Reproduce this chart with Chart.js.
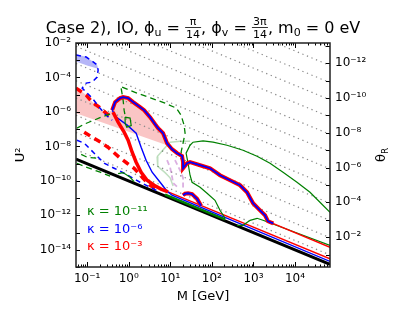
<!DOCTYPE html>
<html>
<head>
<meta charset="utf-8">
<script src="https://cdn.jsdelivr.net/npm/chart.js@4"></script>
<style>
  html, body { margin: 0; padding: 0; background: #fff; }
</style>
</head>
<body>
<canvas id="c" width="407" height="326"></canvas>
<script>
/* ========= DATA ========= */
// axis ranges and ticks
const xMin = 0.054, xMax = 69500;
const yMin = 1e-15, yMax = 1e-2;
const thetaMin = 7e-14, thetaMax = 0.52;

const xTicks = [0.1, 1, 10, 100, 1000, 10000];
const xTickLabels = ["10⁻¹", "10⁰", "10¹", "10²", "10³", "10⁴"];
const yTicks = [1e-14, 1e-12, 1e-10, 1e-8, 1e-6, 1e-4, 1e-2];
const yTickLabels = ["10⁻¹⁴", "10⁻¹²", "10⁻¹⁰", "10⁻⁸", "10⁻⁶", "10⁻⁴", "10⁻²"];
const thetaTicks = [1e-12, 1e-10, 1e-8, 1e-6, 1e-4, 1e-2];
const thetaTickLabels = ["10⁻¹²", "10⁻¹⁰", "10⁻⁸", "10⁻⁶", "10⁻⁴", "10⁻²"];

// dotted constant-theta guides: U2 at left edge and at right edge
const guideLeft = [6.4e-9, 6.4e-8, 6.4e-7, 6.4e-6, 6.4e-5, 6.4e-4, 6.4e-3, 6.4e-2, 0.64, 6.4, 64, 640, 6400];
const guideRight = [5e-15, 5e-14, 5e-13, 5e-12, 5e-11, 5e-10, 5e-9, 5e-8, 5e-7, 5e-6, 5e-5, 5e-4, 5e-3];

// seesaw line
const seesaw = [[0.054, 1.85e-9], [69500, 1.43e-15]];

// kappa = 1e-3 (red)
const redDashedUpper = [[0.054, 2.42e-5], [0.095, 9.5e-6], [0.132, 3.72e-6], [0.195, 1.9e-6], [0.286, 8.5e-7], [0.378, 4.99e-7]];
const redDashedLower = [[0.085, 6.7e-8], [0.132, 3.43e-8], [0.23, 1.53e-8], [0.338, 7.86e-9], [0.587, 2.36e-9],
  [0.916, 1.05e-9], [1.35, 5.4e-10], [2.22, 1.42e-10], [3.27, 5.55e-11], [4.82, 2.84e-11]];
const redSolidLeft = [[0.42, 9.7e-7], [0.556, 2.55e-7], [0.776, 6.7e-8], [0.968, 2.29e-8], [1.21, 4.6e-9], [1.51, 1.21e-9],
  [1.99, 3.16e-10], [2.77, 1.08e-10], [4.08, 5.55e-11], [6.01, 3.3e-11], [8.85, 2.3e-11]];
const redBundle = [[8.85, 2.3e-11], [69500, 3.0e-15]];
const redUpper = [[2244, 4.5e-13], [69500, 1.38e-14]];

// outer boundary shared by kappa = 1e-6 and 1e-3
const boundary = [[0.40, 1.27e-6], [0.471, 3.72e-6], [0.622, 6.34e-6], [0.734, 7.25e-6], [0.97, 6.34e-6], [1.28, 3.72e-6],
  [1.88, 1.9e-6], [2.35, 1.27e-6], [3.27, 4.99e-7], [4.31, 1.95e-7], [5.09, 1.14e-7], [6.71, 5.85e-8], [8.37, 1.53e-8],
  [11.0, 6.9e-9], [14.6, 4.03e-9], [19.2, 2.8e-9], [20.3, 1.21e-9], [20.3, 5.4e-10], [25.3, 1.05e-9], [29.9, 1.21e-9],
  [52.1, 8.07e-10], [90.6, 5.4e-10], [157, 2.12e-10], [274, 1.08e-10], [476, 5.55e-11], [702, 2.17e-11], [980, 4.99e-12],
  [1442, 1.95e-12], [1901, 1.0e-12], [2244, 4.5e-13], [3000, 3.4e-13]];
const smallBump = [[20.3, 1.46e-11], [22.7, 1.8e-11], [26.8, 1.9e-11], [33.4, 1.7e-11], [44.1, 9e-12], [55.1, 3.6e-12]];

// kappa = 1e-6 (blue)
const blueSolidLeft = [[0.40, 1.27e-6], [0.50, 4.99e-7], [0.92, 1.71e-7], [1.51, 5.85e-8], [1.99, 8.98e-9], [2.62, 1.58e-9],
  [3.66, 3.16e-10], [5.69, 8.3e-11], [8.37, 2.5e-11], [11.0, 1.46e-11], [69500, 2.1e-15]];
const blueDashedUpper = [[0.054, 2.0e-3], [0.095, 1.53e-3], [0.132, 8.98e-4], [0.174, 5.26e-4], [0.184, 2.69e-4],
  [0.174, 1.05e-4], [0.132, 5.4e-5], [0.095, 4.72e-5], [0.076, 2.42e-5], [0.10, 1.24e-5], [0.132, 6.34e-6],
  [0.195, 1.9e-6], [0.286, 6.5e-7], [0.40, 3.3e-7]];
const blueDashedLower = [[0.057, 2.29e-8], [0.085, 1.53e-8], [0.148, 4.03e-9], [0.256, 1.05e-9], [0.446, 5.4e-10],
  [0.776, 2.77e-10], [1.88, 8.3e-11], [3.27, 4.25e-11], [5.09, 2.5e-11]];

// kappa = 1e-11 (green)
const greenOuter = [[208, 6.7e-13], [157, 1.95e-12], [119, 7.45e-12], [76.7, 1.9e-11], [52.1, 4.25e-11], [33.4, 8.3e-11],
  [29.9, 2.12e-10], [26.8, 1.05e-9], [24.0, 4.03e-9], [29.9, 1.17e-8], [35.3, 1.75e-8], [61.5, 2.1e-8], [107, 1.75e-8],
  [232, 1.17e-8], [562, 6.0e-9], [1222, 2.69e-9], [2506, 1.05e-9], [5152, 3.16e-10], [11170, 8.3e-11],
  [22960, 2.17e-11], [39900, 5.7e-12], [69500, 1.49e-12]];
const greenUpper = [[400, 2.6e-13], [562, 2.62e-13], [832, 5.13e-13], [1222, 6.7e-13], [1700, 5.13e-13], [69500, 1.8e-14]];
const greenBundle = [[7.5, 1.6e-11], [208, 5.8e-13]];
const greenDashedUpper = [[0.695, 2.77e-5], [1.02, 1.85e-5], [1.59, 1.24e-5], [3.46, 6.34e-6], [7.5, 3.25e-6], [14.0, 1.66e-6],
  [18.2, 6.5e-7], [21.5, 1.71e-7], [22.7, 5.85e-8], [20.3, 1.53e-8], [18.2, 4.6e-9], [20.3, 2.06e-9]];
const greenDashedVert = [[0.66, 2.3e-5], [0.734, 4.85e-6], [0.776, 1.27e-6], [0.82, 6e-7]];
const greenLoop = [[0.82, 5e-7], [1.08, 4.4e-7], [1.15, 1.6e-7], [0.9, 1.3e-7], [0.82, 2.2e-7], [0.82, 5e-7]];
const greenDashedMid = [[0.057, 1.14e-7], [0.085, 1.95e-7], [0.148, 3.34e-7], [0.217, 5e-7], [0.30, 6.5e-7], [0.40, 8e-7]];
const greenDashedLow1 = [[0.072, 3.4e-9], [0.10, 2.36e-9], [0.165, 2.06e-9]];
const greenDashedLow2 = [[0.057, 1.05e-9], [0.09, 6.5e-10], [0.206, 3.2e-10], [0.357, 1.9e-10]];
const greenSmall = [[0.556, 2.6e-10], [0.734, 3.0e-10], [1.08, 1.6e-10], [1.35, 9e-11]];
const faintGreen1 = [[4.82, 2.5e-9], [7.0, 7e-9], [9.9, 1.75e-8], [17.2, 2.0e-8], [29.9, 2.0e-8]];
const faintGreen2 = [[4.82, 2.5e-9], [5.0, 7e-10], [7.5, 3e-10], [9.9, 1.5e-10], [11.7, 5e-11]];

// light purple dashed
const purple1 = [[8.37, 1.58e-9], [9.9, 6.18e-10], [11.0, 1.8e-10], [11.7, 7.5e-11], [15.4, 4.0e-11]];
const purple2 = [[13.0, 1.58e-9], [17.2, 4.13e-10], [20.3, 1.5e-10], [20.3, 3e-11]];

// filled regions
const pinkRegion = [[0.054, 2.77e-5], [0.095, 9.5e-6], [0.132, 3.72e-6], [0.195, 1.9e-6], [0.286, 8.5e-7], [0.40, 1.27e-6],
  [0.471, 3.72e-6], [0.622, 6.34e-6], [0.734, 7.25e-6], [0.97, 6.34e-6], [1.28, 3.72e-6], [1.88, 1.9e-6], [2.35, 1.27e-6],
  [3.27, 4.99e-7], [4.31, 1.95e-7], [5.09, 1.14e-7], [6.71, 5.85e-8], [8.37, 1.17e-8], [0.054, 8.5e-7]];
const blueRegion = [[0.054, 2.3e-3], [0.095, 1.53e-3], [0.132, 8.98e-4], [0.174, 5.26e-4], [0.184, 3.2e-4],
  [0.10, 5.0e-4], [0.054, 8.5e-4]];

const kappaLabels = ["κ = 10⁻¹¹", "κ = 10⁻⁶", "κ = 10⁻³"];
const kappaColors = ["#008000", "#0000ff", "#ff0000"];

/* ========= HELPERS ========= */
const FAM = '"DejaVu Sans", sans-serif';
const GREEN = "#008000", BLUE = "#0000ff", RED = "#ff0000";

function line(data, color, width, dash) {
  return { data: data.map(p => p.slice()), borderColor: color, borderWidth: width, borderDash: dash || [],
    showLine: true, pointRadius: 0, fill: false, tension: 0 };
}
function area(data, color) {
  return { data: data.map(p => p.slice()), backgroundColor: color, borderColor: "rgba(0,0,0,0)", borderWidth: 0,
    showLine: true, pointRadius: 0, fill: "shape", tension: 0 };
}

// listed bottom layer first
const layers = [
  area(pinkRegion, "rgba(245,150,150,0.55)"),
  area(blueRegion, "rgba(110,110,240,0.5)")
];
guideLeft.forEach((v, i) => {
  layers.push(line([[xMin, v], [xMax, guideRight[i]]], "#8a8a8a", 1.2, [1.3, 3.6]));
});
layers.push(
  line(faintGreen1, "rgba(0,128,0,0.25)", 1.5),
  line(faintGreen2, "rgba(0,128,0,0.25)", 1.5),
  line(purple1, "rgba(190,110,200,0.55)", 1.8, [5, 3]),
  line(purple2, "rgba(190,110,200,0.55)", 1.8, [5, 3]),
  line(seesaw, "#000", 3),
  line(greenBundle, GREEN, 2.5),
  line(redBundle, RED, 1.4),
  line(blueSolidLeft, BLUE, 1.4),
  line(redSolidLeft, RED, 3.5),
  line(redDashedUpper, RED, 3.5, [7, 5]),
  line(redDashedLower, RED, 3.5, [7, 5]),
  line(blueDashedUpper, BLUE, 1.5, [5, 4]),
  line(blueDashedLower, BLUE, 1.5, [5, 4]),
  line(greenDashedUpper, GREEN, 1.3, [6, 4]),
  line(greenDashedVert, GREEN, 1.3, [6, 4]),
  line(greenDashedMid, GREEN, 1.3, [6, 4]),
  line(greenDashedLow1, GREEN, 1.3, [6, 4]),
  line(greenDashedLow2, GREEN, 1.3, [6, 4]),
  line(greenLoop, GREEN, 1.2),
  line(greenSmall, GREEN, 1.2),
  line(greenOuter, GREEN, 1.2),
  line(greenUpper, GREEN, 1.2),
  line(redUpper, RED, 1.4),
  line(boundary, RED, 4),
  line(smallBump, RED, 4),
  line(boundary, BLUE, 1.8),
  line(smallBump, BLUE, 1.8)
);
// Chart.js paints dataset 0 last (on top), so flip the stack
const datasets = layers.reverse();

/* ========= TEXT ========= */
function drawTitle(ctx, cx, y) {
  const big = "16px " + FAM, small = "11px " + FAM;
  const parts = [
    { t: "Case 2), IO, ϕ" }, { s: "u" }, { t: " = " }, { f: ["π", "14"] }, { t: ", ϕ" }, { s: "v" }, { t: " = " },
    { f: ["3π", "14"] }, { t: ", m" }, { s: "0" }, { t: " = 0 eV" }
  ];
  const w = parts.map(p => {
    if (p.f) { ctx.font = small; return Math.max(ctx.measureText(p.f[0]).width, ctx.measureText(p.f[1]).width) + 2; }
    ctx.font = p.s ? small : big;
    return ctx.measureText(p.s || p.t).width;
  });
  let x = cx - w.reduce((a, b) => a + b, 0) / 2;
  ctx.fillStyle = "#000";
  ctx.textBaseline = "alphabetic";
  parts.forEach((p, i) => {
    if (p.f) {
      ctx.font = small; ctx.textAlign = "center";
      ctx.fillText(p.f[0], x + w[i] / 2, y - 8);
      ctx.fillText(p.f[1], x + w[i] / 2, y + 5);
      ctx.fillRect(x, y - 6, w[i], 0.8);
    } else if (p.s) {
      ctx.font = small; ctx.textAlign = "left";
      ctx.fillText(p.s, x, y + 3);
    } else {
      ctx.font = big; ctx.textAlign = "left";
      ctx.fillText(p.t, x, y);
    }
    x += w[i];
  });
}

const decor = {
  id: "decor",
  afterDatasetsDraw(chart) {
    const { ctx, chartArea: a, scales } = chart;
    ctx.save();
    ctx.strokeStyle = "#000";
    ctx.lineWidth = 1;
    ctx.beginPath();
    for (let e = -2; e <= 4; e++) {
      for (let m = 1; m <= 9; m++) {
        const v = m * Math.pow(10, e);
        if (v < xMin || v > xMax) continue;
        const px = Math.round(scales.x.getPixelForValue(v)) + 0.5;
        const len = m === 1 ? 5 : 2.5;
        ctx.moveTo(px, a.bottom); ctx.lineTo(px, a.bottom - len);
        ctx.moveTo(px, a.top); ctx.lineTo(px, a.top + len);
      }
    }
    for (let e = -15; e <= -2; e++) {
      const py = Math.round(scales.y.getPixelForValue(Math.pow(10, e))) + 0.5;
      ctx.moveTo(a.left, py); ctx.lineTo(a.left + 4, py);
    }
    for (let e = -13; e <= -1; e++) {
      const py = Math.round(scales.y2.getPixelForValue(Math.pow(10, e))) + 0.5;
      ctx.moveTo(a.right, py); ctx.lineTo(a.right - 4, py);
    }
    ctx.stroke();
    ctx.lineWidth = 1.5;
    ctx.strokeStyle = "#222";
    ctx.strokeRect(a.left, a.top, a.right - a.left, a.bottom - a.top);
    ctx.restore();
  },
  afterDraw(chart) {
    const { ctx, chartArea: a } = chart;
    ctx.save();
    drawTitle(ctx, (a.left + a.right) / 2, 33);

    ctx.fillStyle = "#000";
    ctx.font = "13px " + FAM;
    ctx.textAlign = "center";
    ctx.textBaseline = "middle";
    ctx.fillText("M [GeV]", (a.left + a.right) / 2, 297);

    ctx.save();
    ctx.translate(21, (a.top + a.bottom) / 2);
    ctx.rotate(-Math.PI / 2);
    ctx.fillText("U²", 0, 0);
    ctx.restore();

    ctx.save();
    ctx.translate(381, (a.top + a.bottom) / 2);
    ctx.rotate(-Math.PI / 2);
    ctx.textAlign = "left";
    ctx.textBaseline = "alphabetic";
    ctx.fillText("θ", -7, 4);
    ctx.font = "9px " + FAM;
    ctx.fillText("R", 1, 7);
    ctx.restore();

    ctx.font = "13px " + FAM;
    ctx.textAlign = "left";
    ctx.textBaseline = "alphabetic";
    kappaLabels.forEach((t, i) => {
      ctx.fillStyle = kappaColors[i];
      ctx.fillText(t, 87, 215 + i * 17.5);
    });
    ctx.restore();
  }
};

/* ========= CHART ========= */
const tickFont = { family: FAM, size: 12 };

new Chart(document.getElementById("c"), {
  type: "scatter",
  data: { datasets },
  plugins: [decor],
  options: {
    responsive: false,
    animation: false,
    layout: { padding: { top: 43, left: 0, right: 0, bottom: 0 } },
    plugins: { legend: { display: false }, tooltip: { enabled: false } },
    scales: {
      x: {
        type: "logarithmic", min: xMin, max: xMax,
        grid: { display: false, drawTicks: false }, border: { display: false },
        afterBuildTicks: s => { s.ticks = xTicks.map(v => ({ value: v })); },
        afterFit: s => { s.height = 59; },
        ticks: { autoSkip: false, maxRotation: 0, padding: 5, color: "#000", font: tickFont,
          callback: (v, i) => xTickLabels[i] }
      },
      y: {
        type: "logarithmic", min: yMin, max: yMax, position: "left",
        grid: { display: false, drawTicks: false }, border: { display: false },
        afterBuildTicks: s => { s.ticks = yTicks.map(v => ({ value: v })); },
        afterFit: s => { s.width = 76; },
        ticks: { autoSkip: false, padding: 5, color: "#000", font: tickFont,
          callback: (v, i) => yTickLabels[i] }
      },
      y2: {
        type: "logarithmic", min: thetaMin, max: thetaMax, position: "right", reverse: true,
        grid: { display: false, drawTicks: false }, border: { display: false },
        afterBuildTicks: s => { s.ticks = thetaTicks.map(v => ({ value: v })); },
        afterFit: s => { s.width = 77; },
        ticks: { autoSkip: false, padding: 5, color: "#000", font: tickFont,
          callback: (v, i) => thetaTickLabels[i] }
      }
    }
  }
});
</script>
</body>
</html>
